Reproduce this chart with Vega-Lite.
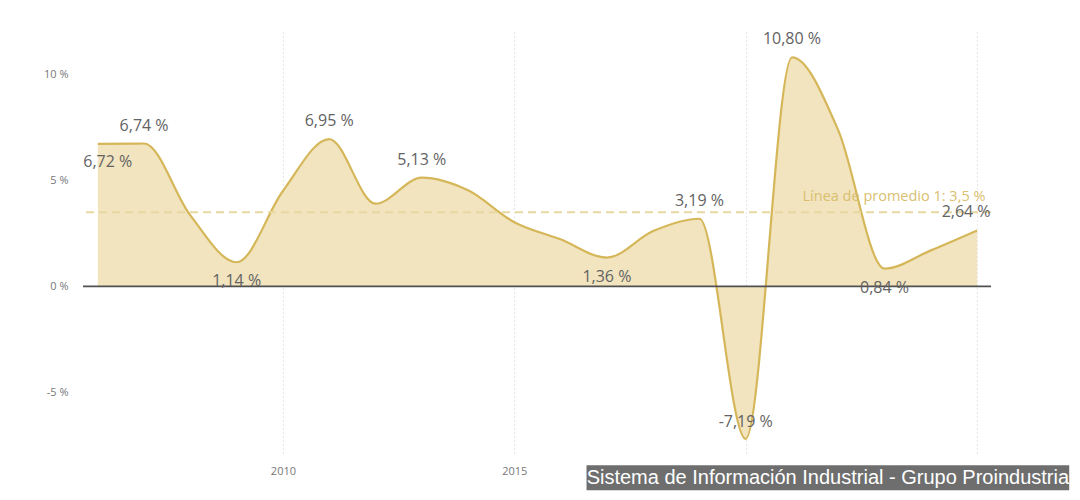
{
  "$schema": "https://vega.github.io/schema/vega-lite/v6.json",
  "width": 908,
  "height": 424,
  "autosize": {"type": "none"},
  "padding": {"left": 83, "top": 32, "right": 89, "bottom": 44},
  "background": "#ffffff",
  "data": {
    "values": [
      {"anio": 2006, "variacion": 0.0672},
      {"anio": 2007, "variacion": 0.0674},
      {"anio": 2008, "variacion": 0.0335},
      {"anio": 2009, "variacion": 0.0114},
      {"anio": 2010, "variacion": 0.0450},
      {"anio": 2011, "variacion": 0.0695},
      {"anio": 2012, "variacion": 0.0390},
      {"anio": 2013, "variacion": 0.0513},
      {"anio": 2014, "variacion": 0.0453},
      {"anio": 2015, "variacion": 0.0303},
      {"anio": 2016, "variacion": 0.0222},
      {"anio": 2017, "variacion": 0.0136},
      {"anio": 2018, "variacion": 0.0261},
      {"anio": 2019, "variacion": 0.0319},
      {"anio": 2020, "variacion": -0.0719},
      {"anio": 2021, "variacion": 0.1080},
      {"anio": 2022, "variacion": 0.0736},
      {"anio": 2023, "variacion": 0.0084},
      {"anio": 2024, "variacion": 0.0170},
      {"anio": 2025, "variacion": 0.0264}
    ]
  },
  "encoding": {
    "x": {
      "field": "anio",
      "type": "quantitative",
      "title": null,
      "scale": {"domain": [2005.68, 2025.3], "nice": false, "zero": false},
      "axis": {
        "values": [2010, 2015, 2020, 2025],
        "format": "d",
        "domain": false,
        "ticks": false,
        "grid": true,
        "gridColor": "#cfcfcf",
        "gridDash": [1, 3],
        "gridWidth": 1,
        "labelFont": "Open Sans",
        "labelFontSize": 11,
        "labelColor": "#777777",
        "labelPadding": 9
      }
    },
    "y": {
      "field": "variacion",
      "type": "quantitative",
      "title": null,
      "scale": {"domain": [-0.08, 0.12], "nice": false},
      "axis": {
        "values": [-0.05, 0, 0.05, 0.1],
        "format": ".0%",
        "domain": false,
        "ticks": false,
        "grid": false,
        "labelFont": "Open Sans",
        "labelFontSize": 11,
        "labelColor": "#777777",
        "labelPadding": 15
      }
    }
  },
  "layer": [
    {
      "mark": {
        "type": "area",
        "interpolate": "monotone",
        "color": "#f1e4bf",
        "opacity": 1,
        "line": {"color": "#d5b75a", "strokeWidth": 2.2}
      }
    },
    {
      "transform": [{"filter": "datum.anio === 2006"}],
      "mark": {"type": "rule", "color": "#505050", "strokeWidth": 1.8},
      "encoding": {"x": null, "y": {"datum": 0}}
    },
    {
      "transform": [{"filter": "datum.anio === 2006"}],
      "mark": {"type": "rule", "color": "#e8d7a0", "strokeWidth": 2, "strokeDash": [8, 5]},
      "encoding": {"x": null, "y": {"datum": 0.035}}
    },
    {
      "transform": [{"filter": "datum.anio === 2006"}],
      "mark": {
        "type": "text",
        "align": "right",
        "baseline": "bottom",
        "dy": -8,
        "font": "Open Sans",
        "fontSize": 14.5,
        "fill": "#d9bf6f"
      },
      "encoding": {
        "x": {"datum": 2025.18},
        "y": {"datum": 0.035},
        "text": {"value": "Línea de promedio 1: 3,5 %"}
      }
    },
    {
      "transform": [{"filter": "indexof([2007, 2011, 2013, 2019, 2021], datum.anio) >= 0"}],
      "mark": {"type": "text", "dy": -18, "font": "Open Sans", "fontSize": 16, "color": "#636363"},
      "encoding": {"text": {"field": "variacion", "type": "quantitative", "format": ".2%"}}
    },
    {
      "transform": [{"filter": "datum.anio === 2025"}],
      "mark": {"type": "text", "dy": -18, "dx": -11, "font": "Open Sans", "fontSize": 16, "color": "#636363"},
      "encoding": {"text": {"field": "variacion", "type": "quantitative", "format": ".2%"}}
    },
    {
      "transform": [{"filter": "datum.anio === 2020"}],
      "mark": {"type": "text", "dy": -17, "font": "Open Sans", "fontSize": 16, "color": "#636363"},
      "encoding": {"text": {"field": "variacion", "type": "quantitative", "format": ".2%"}}
    },
    {
      "transform": [{"filter": "indexof([2009, 2017, 2023], datum.anio) >= 0"}],
      "mark": {"type": "text", "dy": 19, "font": "Open Sans", "fontSize": 16, "color": "#636363"},
      "encoding": {"text": {"field": "variacion", "type": "quantitative", "format": ".2%"}}
    },
    {
      "transform": [{"filter": "datum.anio === 2006"}],
      "mark": {"type": "text", "dy": 18, "dx": 10, "font": "Open Sans", "fontSize": 16, "color": "#636363"},
      "encoding": {"text": {"field": "variacion", "type": "quantitative", "format": ".2%"}}
    },
    {
      "transform": [{"filter": "datum.anio === 2006"}],
      "mark": {"type": "rect", "color": "#6e6e6e", "clip": false},
      "encoding": {
        "x": {"datum": 2016.56},
        "x2": {"datum": 2026.99},
        "y": {"datum": -0.0844},
        "y2": {"datum": -0.0962}
      }
    },
    {
      "transform": [{"filter": "datum.anio === 2006"}],
      "mark": {
        "type": "text",
        "font": "Liberation Sans",
        "fontSize": 20,
        "fill": "#ffffff",
        "align": "center",
        "baseline": "middle"
      },
      "encoding": {
        "x": {"datum": 2021.775},
        "y": {"datum": -0.0904},
        "text": {"value": "Sistema de Información Industrial - Grupo Proindustria"}
      }
    }
  ],
  "config": {
    "view": {"stroke": null},
    "locale": {
      "number": {
        "decimal": ",",
        "thousands": ".",
        "grouping": [3],
        "currency": ["", " €"],
        "percent": " %",
        "minus": "-"
      }
    }
  }
}
